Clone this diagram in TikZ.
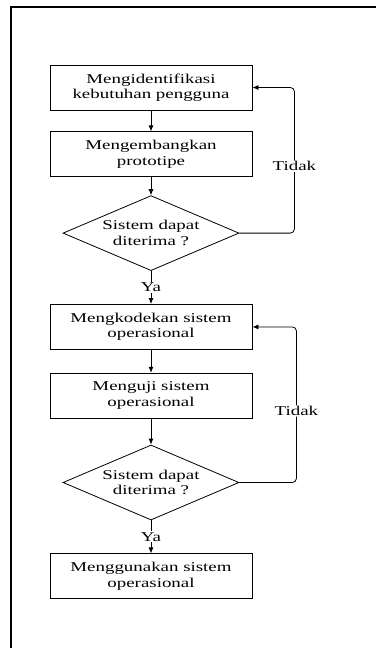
\documentclass[tikz,border=0pt]{standalone}
\usepackage{fontspec}
\setmainfont{Liberation Serif}[FakeStretch=1.4]
\usetikzlibrary{positioning,shapes.geometric,arrows.meta}
\begin{document}
\begin{tikzpicture}[
			every node/.style={font=\fontsize{13.5}{15.5}\selectfont},
			proses/.style={draw, line width=0.8pt, minimum width=202pt, minimum height=45pt, align=center, inner sep=2pt},
			keputusan/.style={draw, diamond, aspect=2.35, line width=0.8pt, minimum width=176pt, minimum height=75pt, inner sep=0pt, align=center},
			panah/.style={-{Latex[length=6pt,width=5pt]}, line width=0.8pt},
			ket/.style={fill=white, inner sep=1pt}
			]
			\useasboundingbox (0,0) rectangle (376pt,-648pt);
			\draw[line width=2pt] (11pt,-648pt) -- (11pt,-7pt) -- (376pt,-7pt);
			\node[proses] (b1) at (151pt,-87.5pt) {Mengidentifikasi\\kebutuhan pengguna};
			\node[proses, below=21pt of b1] (b2) {Mengembangkan\\prototipe};
			\node[keputusan, below=18pt of b2] (d1) {Sistem dapat\\diterima ?};
			\node[proses, below=33pt of d1] (b3) {Mengkodekan sistem\\operasional};
			\node[proses, below=23pt of b3] (b4) {Menguji sistem\\operasional};
			\node[keputusan, below=26pt of b4] (d2) {Sistem dapat\\diterima ?};
			\node[proses, below=33pt of d2] (b5) {Menggunakan sistem\\operasional};
			\draw[panah] (b1) -- (b2);
			\draw[panah] (b2) -- (d1);
			\draw[panah] (d1) -- node[ket] {Ya} (b3);
			\draw[panah] (b3) -- (b4);
			\draw[panah] (b4) -- (d2);
			\draw[panah] (d2) -- node[ket] {Ya} (b5);
			\draw[panah, rounded corners=4pt] (d1.east) -| node[ket, pos=0.73] {Tidak} ([xshift=42pt]b1.east) -- (b1.east);
			\draw[panah, rounded corners=4pt] (d2.east) -| node[ket, pos=0.73] {Tidak} ([xshift=44pt]b3.east) -- (b3.east);
		\end{tikzpicture}
\end{document}
